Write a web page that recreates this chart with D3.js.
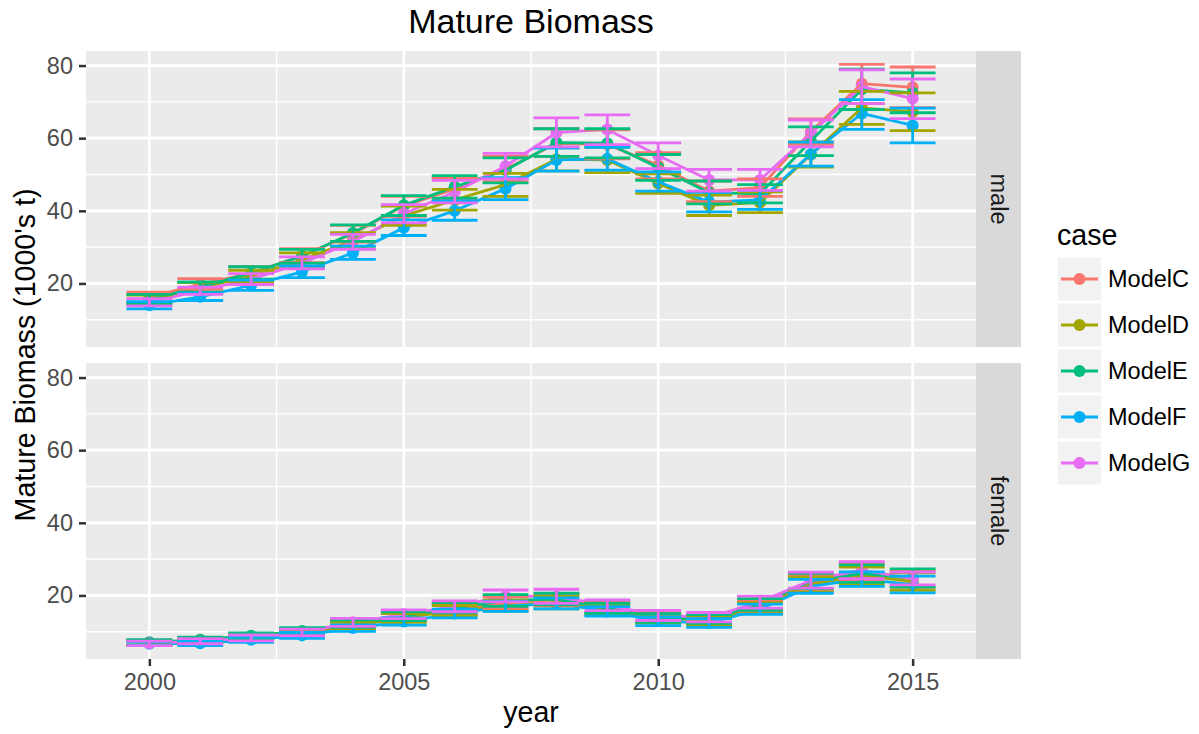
<!DOCTYPE html>
<html>
<head>
<meta charset="utf-8">
<script src="https://cdn.jsdelivr.net/npm/d3@7"></script>
<style>
  body { margin: 0; background: #ffffff; }
  svg { display: block; }
  text { font-family: "Liberation Sans", Arial, Helvetica, sans-serif; }
</style>
</head>
<body>
<svg id="chart" width="1199" height="734"></svg>
<script>
// ---- data -------------------------------------------------------------
const years = [2000, 2001, 2002, 2003, 2004, 2005, 2006, 2007, 2008, 2009, 2010, 2011, 2012, 2013, 2014, 2015];
const cases = ["ModelC", "ModelD", "ModelE", "ModelF", "ModelG"];
const caseColors = ["#F8766D", "#A3A500", "#00BF7D", "#00B0F6", "#E76BF3"];
const sexes = ["male", "female"];
const yTicks = [20, 40, 60, 80];
const yMinor = [10, 30, 50, 70];
const xTicks = [2000, 2005, 2010, 2015];
const xMinor = [2002.5, 2007.5, 2012.5];

// male mature biomass (1000's t): estimate, lower, upper
const maleC   = [16.2, 19.8, 22.8, 27.6, 33.7, 41.3, 46.0, 51.5, 58.5, 58.3, 52.5, 45.4, 46.4, 61.8, 75.0, 74.0];
const maleCLo = [14.8, 18.4, 21.1, 25.7, 31.4, 38.5, 43.0, 48.0, 55.0, 54.3, 48.8, 42.5, 44.0, 58.3, 69.5, 68.4];
const maleCHi = [17.6, 21.3, 24.6, 29.6, 36.0, 44.0, 49.0, 55.0, 62.6, 62.3, 56.0, 48.2, 48.8, 65.3, 80.3, 79.6];

const maleD   = [15.5, 18.8, 22.0, 26.5, 31.8, 38.6, 43.0, 47.2, 54.2, 54.0, 47.5, 41.5, 42.3, 55.5, 68.3, 67.3];
const maleDLo = [14.2, 17.4, 20.4, 24.6, 29.6, 36.0, 40.2, 44.0, 51.0, 50.5, 44.8, 38.7, 39.5, 52.0, 63.8, 62.1];
const maleDHi = [16.8, 20.2, 23.6, 28.4, 34.0, 41.3, 45.9, 50.3, 57.4, 57.5, 50.2, 44.3, 45.2, 59.0, 72.9, 72.5];

const maleE   = [15.7, 19.0, 22.9, 27.5, 33.9, 41.5, 46.6, 51.2, 58.8, 58.6, 51.9, 45.0, 44.7, 59.2, 73.5, 72.5];
const maleELo = [14.4, 17.6, 21.2, 25.6, 31.6, 38.7, 43.5, 47.7, 55.0, 54.6, 48.4, 41.9, 42.2, 55.2, 67.9, 67.0];
const maleEHi = [17.0, 20.4, 24.6, 29.4, 36.1, 44.2, 49.7, 54.6, 62.6, 62.6, 55.5, 48.2, 47.2, 63.1, 79.0, 78.0];

const maleF   = [14.0, 16.3, 19.5, 23.2, 28.4, 35.3, 40.0, 46.1, 54.0, 54.3, 48.0, 42.4, 43.0, 55.6, 66.8, 63.5];
const maleFLo = [13.0, 15.3, 18.1, 21.6, 26.6, 33.2, 37.4, 43.1, 50.9, 51.2, 45.4, 39.7, 40.4, 52.3, 62.4, 58.7];
const maleFHi = [15.0, 17.3, 20.9, 24.8, 30.3, 37.5, 42.7, 49.1, 57.3, 57.5, 50.7, 45.1, 45.6, 58.9, 70.6, 68.3];

const maleG   = [14.8, 18.0, 21.2, 25.6, 31.5, 39.2, 45.2, 52.3, 61.5, 62.4, 55.2, 48.5, 48.5, 61.3, 74.2, 70.9];
const maleGLo = [13.8, 17.0, 19.7, 24.0, 29.4, 36.7, 42.2, 48.8, 57.6, 58.2, 51.6, 45.4, 45.6, 57.6, 69.5, 65.4];
const maleGHi = [15.8, 19.0, 22.7, 27.3, 33.5, 41.7, 48.4, 55.8, 65.6, 66.4, 58.7, 51.4, 51.4, 65.0, 78.8, 76.3];

// female mature biomass (1000's t): estimate, lower, upper
const femaleC   = [7.0, 7.7, 8.6, 10.0, 12.0, 14.3, 16.2, 18.0, 18.8, 16.8, 14.0, 13.5, 17.0, 23.5, 26.5, 24.5];
const femaleCLo = [6.3, 7.0, 7.8, 9.1, 11.0, 13.1, 14.8, 16.4, 17.2, 15.3, 12.7, 12.2, 15.4, 21.4, 24.0, 22.3];
const femaleCHi = [7.7, 8.4, 9.4, 10.9, 13.0, 15.5, 17.6, 19.6, 20.4, 18.3, 15.3, 14.8, 18.6, 25.6, 29.0, 26.7];

const femaleD   = [6.9, 7.5, 8.4, 9.7, 11.6, 13.8, 15.8, 17.2, 18.0, 16.0, 13.6, 13.2, 16.5, 23.0, 25.5, 23.8];
const femaleDLo = [6.3, 6.8, 7.6, 8.8, 10.6, 12.6, 14.4, 15.7, 16.3, 14.6, 12.4, 12.0, 15.0, 21.0, 23.2, 21.4];
const femaleDHi = [7.5, 8.2, 9.2, 10.6, 12.6, 15.0, 17.2, 18.7, 19.7, 17.4, 14.8, 14.4, 18.0, 25.0, 27.8, 26.2];

const femaleE   = [7.1, 7.8, 8.9, 10.2, 12.2, 14.3, 16.6, 18.6, 19.0, 16.5, 13.8, 13.5, 17.5, 24.0, 26.0, 24.8];
const femaleELo = [6.4, 7.1, 8.1, 9.3, 11.2, 13.1, 15.2, 17.0, 17.4, 15.1, 12.6, 12.3, 15.9, 21.9, 23.6, 22.3];
const femaleEHi = [7.8, 8.5, 9.7, 11.1, 13.2, 15.5, 18.0, 20.2, 20.6, 17.9, 15.0, 14.7, 19.1, 26.1, 28.4, 27.3];

const femaleF   = [6.7, 6.8, 7.8, 9.0, 11.0, 12.8, 15.0, 17.0, 17.8, 15.6, 12.9, 12.4, 16.2, 22.5, 24.5, 23.0];
const femaleFLo = [6.2, 6.2, 7.1, 8.2, 10.1, 11.8, 13.8, 15.6, 16.3, 14.3, 11.7, 11.2, 14.8, 20.6, 22.5, 20.7];
const femaleFHi = [7.2, 7.4, 8.5, 9.8, 11.9, 13.8, 16.2, 18.4, 19.3, 16.9, 14.1, 13.6, 17.6, 24.4, 26.5, 25.3];

const femaleG   = [6.8, 7.4, 8.3, 9.8, 12.6, 14.8, 17.0, 19.8, 19.7, 17.3, 14.5, 14.0, 18.2, 24.2, 27.0, 24.6];
const femaleGLo = [6.2, 6.7, 7.5, 8.9, 11.5, 13.6, 15.5, 18.2, 17.8, 15.8, 13.1, 12.7, 16.5, 22.0, 24.6, 22.9];
const femaleGHi = [7.4, 8.1, 9.1, 10.7, 13.7, 16.0, 18.5, 21.5, 21.7, 18.8, 15.9, 15.3, 19.8, 26.4, 29.3, 26.4];

// ---- assemble rows -----------------------------------------------------
const seriesTable = {
  male:   [[maleC, maleCLo, maleCHi], [maleD, maleDLo, maleDHi], [maleE, maleELo, maleEHi], [maleF, maleFLo, maleFHi], [maleG, maleGLo, maleGHi]],
  female: [[femaleC, femaleCLo, femaleCHi], [femaleD, femaleDLo, femaleDHi], [femaleE, femaleELo, femaleEHi], [femaleF, femaleFLo, femaleFHi], [femaleG, femaleGLo, femaleGHi]]
};
const groups = [];
sexes.forEach(sex => {
  cases.forEach((c, ci) => {
    const [est, lo, hi] = seriesTable[sex][ci];
    groups.push({
      sex, case: c, color: caseColors[ci],
      rows: years.map((yr, i) => ({ year: yr, est: est[i], lo: lo[i], hi: hi[i] }))
    });
  });
});

// ---- layout -------------------------------------------------------------
const svg = d3.select("#chart");
const panelLeft = 86, panelRight = 976;
const panels = [
  { sex: "male",   top: 51,  bottom: 347 },
  { sex: "female", top: 363, bottom: 659 }
];
const stripW = 45;
const barWidth = 0.9;

// continuous scales with 5% expansion, shared across facets
const allRows = groups.flatMap(g => g.rows);
const yLo = d3.min(allRows, d => d.lo), yHi = d3.max(allRows, d => d.hi);
const yPad = (yHi - yLo) * 0.05;
const xLo = d3.min(years) - barWidth / 2, xHi = d3.max(years) + barWidth / 2;
const xPad = (xHi - xLo) * 0.05;

const x = d3.scaleLinear().domain([xLo - xPad, xHi + xPad]).range([panelLeft, panelRight]);

const gridMajor = 2.7, gridMinor = 1.35, markW = 2.8;

panels.forEach(p => {
  p.y = d3.scaleLinear().domain([yLo - yPad, yHi + yPad]).range([p.bottom, p.top]);
  const g = svg.append("g");

  // panel background
  g.append("rect").attr("x", panelLeft).attr("y", p.top)
    .attr("width", panelRight - panelLeft).attr("height", p.bottom - p.top)
    .attr("fill", "#EBEBEB");

  // grid
  g.selectAll(null).data(yMinor).join("line")
    .attr("x1", panelLeft).attr("x2", panelRight)
    .attr("y1", d => p.y(d)).attr("y2", d => p.y(d))
    .attr("stroke", "#fff").attr("stroke-width", gridMinor);
  g.selectAll(null).data(xMinor).join("line")
    .attr("y1", p.top).attr("y2", p.bottom)
    .attr("x1", d => x(d)).attr("x2", d => x(d))
    .attr("stroke", "#fff").attr("stroke-width", gridMinor);
  g.selectAll(null).data(yTicks).join("line")
    .attr("x1", panelLeft).attr("x2", panelRight)
    .attr("y1", d => p.y(d)).attr("y2", d => p.y(d))
    .attr("stroke", "#fff").attr("stroke-width", gridMajor);
  g.selectAll(null).data(xTicks).join("line")
    .attr("y1", p.top).attr("y2", p.bottom)
    .attr("x1", d => x(d)).attr("x2", d => x(d))
    .attr("stroke", "#fff").attr("stroke-width", gridMajor);

  // y axis
  const yAxis = d3.axisLeft(p.y).tickValues(yTicks).tickSize(7).tickPadding(6);
  const ya = svg.append("g").attr("transform", `translate(${panelLeft},0)`).call(yAxis);
  ya.select(".domain").remove();
  ya.selectAll(".tick line").attr("stroke", "#333333").attr("stroke-width", markW * 0.9);
  ya.selectAll(".tick text").attr("fill", "#4D4D4D").attr("font-size", 23.5)
    .attr("font-family", "'Liberation Sans', Arial, sans-serif");

  // facet strip
  svg.append("rect").attr("x", panelRight).attr("y", p.top)
    .attr("width", stripW).attr("height", p.bottom - p.top).attr("fill", "#D9D9D9");
  svg.append("text")
    .attr("transform", `translate(${panelRight + stripW / 2},${(p.top + p.bottom) / 2}) rotate(90)`)
    .attr("text-anchor", "middle").attr("dominant-baseline", "central")
    .attr("font-size", 23.5).attr("fill", "#1A1A1A").text(p.sex);
});

// x axis on the lower panel
const lower = panels[1];
const xAxis = d3.axisBottom(x).tickValues(xTicks).tickFormat(d3.format("d")).tickSize(7).tickPadding(7);
const xa = svg.append("g").attr("transform", `translate(0,${lower.bottom})`).call(xAxis);
xa.select(".domain").remove();
xa.selectAll(".tick line").attr("stroke", "#333333").attr("stroke-width", markW * 0.9);
xa.selectAll(".tick text").attr("fill", "#4D4D4D").attr("font-size", 23.5)
  .attr("font-family", "'Liberation Sans', Arial, sans-serif");

// ---- marks ----------------------------------------------------------------
const panelBySex = Object.fromEntries(panels.map(p => [p.sex, p]));
const marks = svg.append("g");

// points
groups.forEach(gr => {
  const y = panelBySex[gr.sex].y;
  marks.append("g").selectAll("circle").data(gr.rows).join("circle")
    .attr("cx", d => x(d.year)).attr("cy", d => y(d.est)).attr("r", 6)
    .attr("fill", gr.color);
});

// lines
groups.forEach(gr => {
  const y = panelBySex[gr.sex].y;
  const line = d3.line().x(d => x(d.year)).y(d => y(d.est));
  marks.append("path").datum(gr.rows).attr("d", line)
    .attr("fill", "none").attr("stroke", gr.color).attr("stroke-width", markW)
    .attr("stroke-linejoin", "round");
});

// error bars
groups.forEach(gr => {
  const y = panelBySex[gr.sex].y;
  const eb = marks.append("g").attr("stroke", gr.color).attr("stroke-width", markW).attr("fill", "none");
  eb.selectAll("path").data(gr.rows).join("path")
    .attr("d", d => {
      const x0 = x(d.year - barWidth / 2), x1 = x(d.year + barWidth / 2), xm = x(d.year);
      const yl = y(d.lo), yh = y(d.hi);
      return `M${x0},${yh}H${x1}M${xm},${yh}V${yl}M${x0},${yl}H${x1}`;
    });
});

// ---- titles -----------------------------------------------------------------
svg.append("text").attr("x", (panelLeft + panelRight) / 2).attr("y", 33)
  .attr("text-anchor", "middle").attr("font-size", 34).attr("fill", "#000")
  .text("Mature Biomass");
svg.append("text").attr("x", (panelLeft + panelRight) / 2).attr("y", 722)
  .attr("text-anchor", "middle").attr("font-size", 28.6).attr("fill", "#000")
  .text("year");
svg.append("text")
  .attr("transform", `translate(35,${(panels[0].top + panels[1].bottom) / 2}) rotate(-90)`)
  .attr("text-anchor", "middle").attr("font-size", 28.6).attr("fill", "#000")
  .text("Mature Biomass (1000's t)");

// ---- legend -----------------------------------------------------------------
const legend = svg.append("g");
legend.append("text").attr("x", 1057).attr("y", 245)
  .attr("font-size", 28.6).attr("fill", "#000").text("case");
const keySize = 46, keyTop = 256, keyLeft = 1056.5;
cases.forEach((c, i) => {
  const ky = keyTop + i * keySize;
  const cy = ky + keySize / 2;
  legend.append("rect").attr("x", keyLeft).attr("y", ky)
    .attr("width", keySize).attr("height", keySize)
    .attr("fill", "#F2F2F2").attr("stroke", "#fff").attr("stroke-width", 2.8);
  legend.append("line").attr("x1", keyLeft + 4.5).attr("x2", keyLeft + keySize - 4.5)
    .attr("y1", cy).attr("y2", cy).attr("stroke", caseColors[i]).attr("stroke-width", markW);
  legend.append("circle").attr("cx", keyLeft + keySize / 2).attr("cy", cy).attr("r", 6)
    .attr("fill", caseColors[i]);
  legend.append("text").attr("x", 1108).attr("y", cy)
    .attr("dominant-baseline", "central").attr("font-size", 23.5).attr("fill", "#000")
    .text(c);
});
</script>
</body>
</html>
